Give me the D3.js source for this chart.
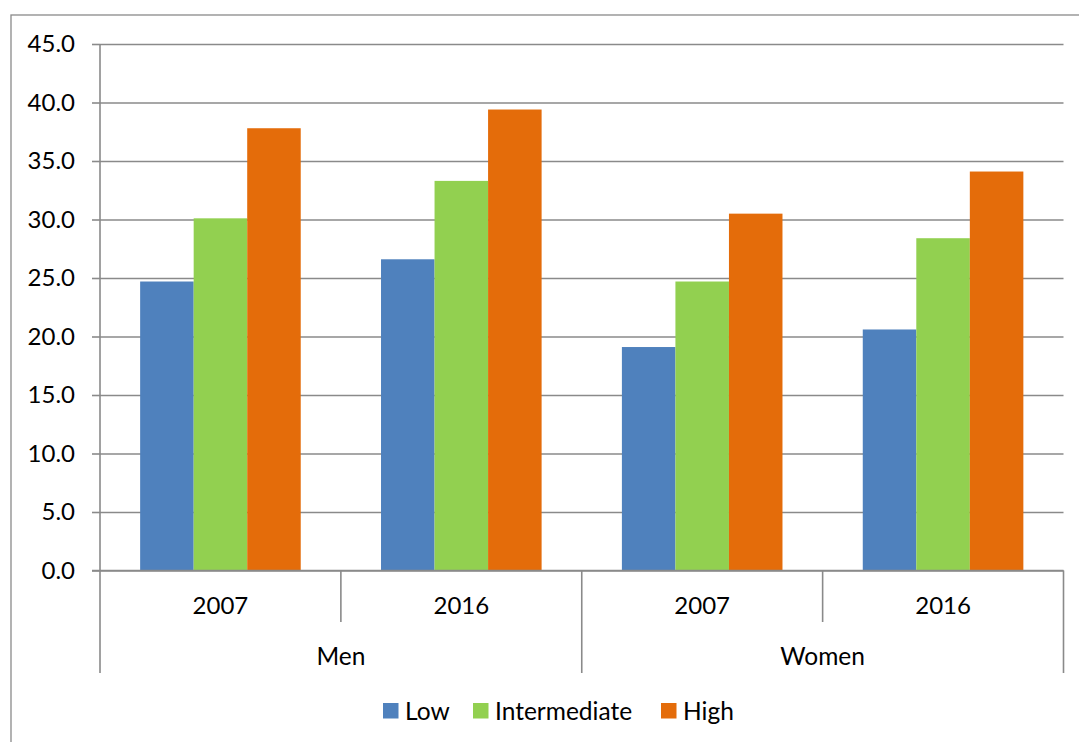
<!DOCTYPE html>
<html>
<head>
<meta charset="utf-8">
<script src="https://cdn.jsdelivr.net/npm/d3@7"></script>
<style>
  html, body { margin: 0; padding: 0; background: #fff; }
  svg { display: block; font-family: Lato, "Open Sans", sans-serif; }
</style>
</head>
<body>
<svg id="chart" width="1079" height="742"></svg>
<script>
// Share of each education level, by sex and survey year
const groups = ["Men", "Women"];
const years = ["2007", "2016"];
const seriesNames = ["Low", "Intermediate", "High"];
const lowValues = [24.7, 26.6, 19.1, 20.6];
const intermediateValues = [30.1, 33.3, 24.7, 28.4];
const highValues = [37.8, 39.4, 30.5, 34.1];
const yTickValues = [0, 5, 10, 15, 20, 25, 30, 35, 40, 45];
const colors = ["#4F81BD", "#92D050", "#E46C0A"];

const categories = [];
groups.forEach(g => years.forEach(yr => categories.push({ group: g, year: yr, key: g + "-" + yr })));
const seriesValues = [lowValues, intermediateValues, highValues];

const svg = d3.select("#chart");
const plotLeft = 100, plotRight = 1063.5, plotTop = 44, plotBottom = 570.5;
const gridColor = "#8a8a8a";
const fontSize = 24.5;
const labelSize = 24;

// outer chart frame
svg.append("rect")
  .attr("x", 11).attr("y", 15)
  .attr("width", 1200).attr("height", 1000)
  .attr("fill", "none").attr("stroke", gridColor).attr("stroke-width", 1.3);

const x0 = d3.scaleBand().domain(categories.map(d => d.key)).range([plotLeft, plotRight]).paddingInner(0).paddingOuter(0);
const x1 = d3.scaleBand().domain(seriesNames).range([0, x0.bandwidth()]).paddingInner(0).paddingOuter(0.75);
const y = d3.scaleLinear().domain([0, 45]).range([plotBottom, plotTop]);

// horizontal gridlines
svg.append("g")
  .attr("transform", `translate(${plotLeft},0)`)
  .call(d3.axisLeft(y).tickValues(yTickValues).tickSize(-(plotRight - plotLeft)).tickFormat(""))
  .call(g => g.select(".domain").remove())
  .call(g => g.selectAll("line").attr("stroke", gridColor).attr("stroke-width", 1.6));

// value axis with tick marks and labels
svg.append("g")
  .attr("transform", `translate(${plotLeft},0)`)
  .call(d3.axisLeft(y).tickValues(yTickValues).tickSize(8).tickPadding(17).tickFormat(d3.format(".1f")))
  .call(g => g.select(".domain").remove())
  .call(g => g.selectAll("line").attr("stroke", gridColor).attr("stroke-width", 1.6))
  .call(g => g.selectAll("text").attr("fill", "#000").style("font-size", labelSize + "px").style("font-family", "Lato, 'Open Sans', sans-serif"));

// bars
const catG = svg.append("g").selectAll("g")
  .data(categories)
  .join("g")
  .attr("transform", d => `translate(${x0(d.key)},0)`);

catG.selectAll("rect")
  .data((d, i) => seriesNames.map((s, j) => ({ series: s, value: seriesValues[j][i], color: colors[j] })))
  .join("rect")
  .attr("x", d => x1(d.series))
  .attr("width", x1.bandwidth())
  .attr("y", d => y(d.value))
  .attr("height", d => y(0) - y(d.value))
  .attr("fill", d => d.color);

// vertical axis line
svg.append("line")
  .attr("x1", plotLeft).attr("x2", plotLeft)
  .attr("y1", plotTop).attr("y2", 673)
  .attr("stroke", gridColor).attr("stroke-width", 1.6);

// baseline
svg.append("line")
  .attr("x1", plotLeft - 8).attr("x2", plotRight)
  .attr("y1", y(0)).attr("y2", y(0))
  .attr("stroke", gridColor).attr("stroke-width", 1.6);

// category separators: short between years, long between groups
const seps = categories.map((d, i) => ({ x: x0(d.key), long: i % years.length === 0 }));
seps.push({ x: plotRight, long: true });
svg.append("g").selectAll("line")
  .data(seps.filter(d => d.x !== plotLeft))
  .join("line")
  .attr("x1", d => d.x).attr("x2", d => d.x)
  .attr("y1", y(0)).attr("y2", d => d.long ? 673 : 622)
  .attr("stroke", gridColor).attr("stroke-width", 1.6);

// year labels
svg.append("g").selectAll("text")
  .data(categories)
  .join("text")
  .attr("x", d => x0(d.key) + x0.bandwidth() / 2)
  .attr("y", 613.5)
  .attr("text-anchor", "middle")
  .style("font-size", labelSize + "px")
  .text(d => d.year);

// group labels
svg.append("g").selectAll("text")
  .data(groups)
  .join("text")
  .attr("x", g => {
    const keys = categories.filter(c => c.group === g).map(c => c.key);
    return (x0(keys[0]) + x0(keys[keys.length - 1]) + x0.bandwidth()) / 2;
  })
  .attr("y", 664.5)
  .attr("text-anchor", "middle")
  .style("font-size", fontSize + "px")
  .text(g => g);

// legend
const legendX = [383, 473, 661];
const legend = svg.append("g").selectAll("g")
  .data(seriesNames)
  .join("g")
  .attr("transform", (d, i) => `translate(${legendX[i]},703)`);
legend.append("rect")
  .attr("width", 15.5).attr("height", 15.5)
  .attr("fill", (d, i) => colors[i]);
legend.append("text")
  .attr("x", 22).attr("y", 16.5)
  .style("font-size", fontSize + "px")
  .text(d => d);
</script>
</body>
</html>
